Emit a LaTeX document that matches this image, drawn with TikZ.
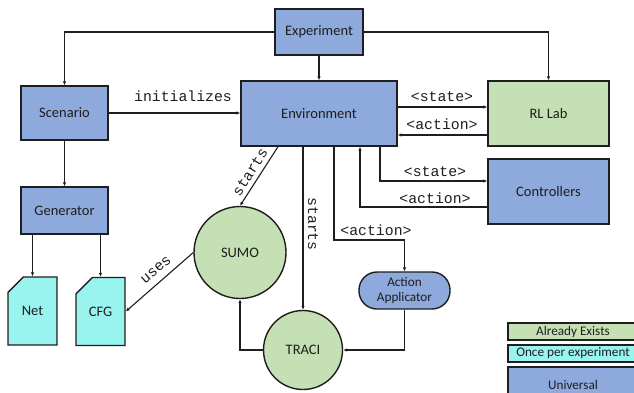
\documentclass[tikz,border=0pt]{standalone}
\usepackage{fontspec}
\setmainfont{Carlito}
\newfontfamily\monof{Liberation Mono}
\usetikzlibrary{arrows.meta,shapes.misc,calc}
\definecolor{ublue}{RGB}{142,169,219}
\definecolor{egreen}{RGB}{197,224,180}
\definecolor{ocyan}{RGB}{153,243,238}
\definecolor{edge}{RGB}{30,30,30}
\tikzset{
  box/.style={draw=edge, line width=1.4pt, fill=ublue, rectangle, inner sep=0pt, font=\fontsize{14.5}{16}\selectfont, text=edge},
  circ/.style={draw=edge, line width=1.4pt, fill=egreen, circle, inner sep=0pt, font=\fontsize{14.5}{16}\selectfont, text=edge},
  doc/.style={draw=edge, line width=1.4pt, fill=ocyan, chamfered rectangle, chamfered rectangle corners=north west, chamfered rectangle xsep=7pt, chamfered rectangle ysep=12pt, inner sep=0pt, minimum width=49pt, minimum height=68pt, font=\fontsize{14.5}{16}\selectfont, text=edge},
  legbox/.style={draw=edge, line width=1.4pt, rectangle, inner sep=0pt, minimum width=130pt, font=\fontsize{13.2}{15}\selectfont, text=edge},
  arr/.style={draw=edge, line width=1.1pt, -{Latex[length=4pt,width=3.5pt]}},
  lbl/.style={font=\monof\fontsize{14.8}{16}\selectfont, text=edge, inner sep=0pt},
}
\begin{document}
\begin{tikzpicture}[x=1pt,y=-1pt]
\useasboundingbox (0,0) rectangle (634,392);
\fill[white] (0,0) rectangle (634,392);
% nodes
\node[box, minimum width=88pt, minimum height=46pt] (exp) at (319,32) {Experiment};
\node[box, minimum width=156pt, minimum height=65pt] (env) at (319,113.5) {Environment};
\node[box, minimum width=87pt, minimum height=54pt] (scen) at (64.5,113) {Scenario};
\node[box, minimum width=87pt, minimum height=47pt] (gen) at (64.5,210.5) {Generator};
\node[box, fill=egreen, minimum width=121pt, minimum height=65pt] (rl) at (548.5,113.5) {RL Lab};
\node[box, minimum width=121pt, minimum height=65pt] (ctrl) at (548.5,191.5) {Controllers};
\node[circ, minimum size=92pt] (sumo) at (240,252.5) {SUMO};
\node[circ, minimum size=79pt] (traci) at (303,350) {TRACI};
\node[box, rounded corners=18pt, minimum width=91pt, minimum height=37pt, align=center, font=\fontsize{13.2}{15}\selectfont] (aa) at (404.5,290.5) {Action\\Applicator};
\node[doc] (net) at (32.5,311) {Net};
\node[doc] (cfg) at (100.5,311.5) {CFG};
% legend
\node[legbox, fill=egreen, minimum height=17pt] (lg1) at (573,331.5) {Already Exists};
\node[legbox, fill=ocyan, minimum height=17pt] (lg2) at (573,353.5) {Once per experiment};
\node[legbox, fill=ublue, minimum height=36pt] (lg3) at (573,385) {Universal};
% connectors
\draw[arr] (exp.west) -| (scen.north);
\draw[arr] (exp.east) -| (rl.north);
\draw[arr] (exp.south) -- (env.north);
\draw[arr] (scen.east) -- (scen.east -| env.west);
\draw[arr] (scen.south) -- (gen.north);
\draw[arr] (net.north |- gen.south) -- (net.north);
\draw[arr] (cfg.north |- gen.south) -- (cfg.north);
\draw[arr] (env.east |- 0,107) -- (rl.west |- 0,107);
\draw[arr] (rl.west |- 0,135) -- (env.east |- 0,135);
\draw[arr] (env.south -| 380,0) |- (ctrl.west |- 0,181);
\draw[arr] (ctrl.west |- 0,207) -| (env.south -| 360,0);
\draw[arr] (env.south -| 334,0) |- (aa.north |- 0,240) -- (aa.north);
\draw[arr] (aa.south) |- (traci.east);
\draw[arr] (traci.west) -| (sumo.south);
\draw[arr] (env.south -| 278,0) -- (sumo.north);
\draw[arr] (env.south -| traci.north) -- (traci.north);
\draw[arr] (sumo.west) -- (cfg.east);
% labels
\node[lbl] (linit) at (183,96) {initializes};
\node[lbl] (ls1) at (442,97) {<state>};
\node[lbl] (la1) at (442,124) {<action>};
\node[lbl] (ls2) at (435,172) {<state>};
\node[lbl] (la2) at (435,198) {<action>};
\node[lbl] (la3) at (376,230) {<action>};
\node[lbl, rotate=57.7] (lst1) at (250,172) {starts};
\node[lbl, rotate=-90] (lst2) at (313,224) {starts};
\node[lbl, rotate=40.9] (luse) at (156,270) {uses};
\end{tikzpicture}
\end{document}
